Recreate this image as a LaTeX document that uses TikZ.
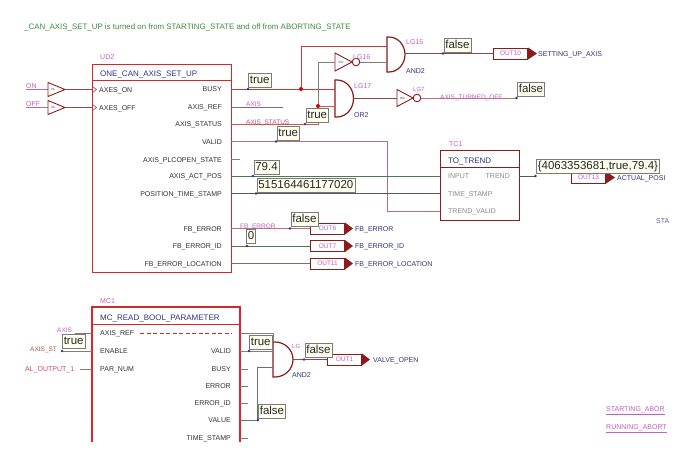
\documentclass[tikz,border=0pt]{standalone}
\usepackage{fontspec}
\setmainfont{Liberation Sans}
\usetikzlibrary{calc}
\definecolor{blockred}{HTML}{D8262B}
\definecolor{gatered}{HTML}{8E1B1B}
\definecolor{lblmag}{HTML}{C45EC4}
\definecolor{navy}{HTML}{34347C}
\definecolor{porttxt}{HTML}{333333}
\definecolor{titlegreen}{HTML}{3E8E3E}
\definecolor{valfill}{HTML}{FFFFF0}
\definecolor{valborder}{HTML}{7A7A7A}
\definecolor{wred}{HTML}{C83A3A}
\definecolor{wdark}{HTML}{8A4A4A}
\definecolor{wgreen}{HTML}{4A7A50}
\definecolor{wpink}{HTML}{B87080}
\definecolor{wgray}{HTML}{505868}
\definecolor{wpurple}{HTML}{7A6A90}
\definecolor{wlgray}{HTML}{8A7A7A}
\definecolor{tcgray}{HTML}{8A8A8A}
\definecolor{redtxt}{HTML}{C05050}
\tikzset{
 port/.style={font=\fontsize{7}{8}\selectfont, text=porttxt, inner sep=0pt},
 portL/.style={port, anchor=base west},
 portR/.style={port, anchor=base east},
 tcport/.style={font=\fontsize{7}{8}\selectfont, text=tcgray, inner sep=0pt, anchor=base west},
 ttl/.style={font=\fontsize{8}{9}\selectfont, text=navy, inner sep=0pt, anchor=base west},
 inst/.style={font=\fontsize{7}{8}\selectfont, text=lblmag, inner sep=0pt, anchor=base west},
 gname/.style={font=\fontsize{7}{8}\selectfont, text=navy, inner sep=0pt, anchor=base west},
 sig/.style={font=\fontsize{6.5}{7}\selectfont, text=lblmag, inner sep=0pt, anchor=base west},
 rsig/.style={font=\fontsize{7}{8}\selectfont, text=redtxt, inner sep=0pt, anchor=base west},
 outname/.style={font=\fontsize{7}{8}\selectfont, text=navy, inner sep=0pt, anchor=base west},
 tinytxt/.style={font=\fontsize{3}{3}\selectfont, text=navy, inner sep=0pt},
 valbox/.style={draw=valborder, fill=valfill, font=\fontsize{11.5}{12}\selectfont, text=black!85, inner xsep=1.5pt, inner ysep=1.5pt, text height=8.5pt, text depth=2.5pt, anchor=south west, line width=0.6pt},
 jdot/.style={circle, fill=navy, inner sep=0pt, minimum size=2.6pt},
 rdot/.style={circle, fill=red!85!black, inner sep=0pt, minimum size=4pt},
 outbox/.style={draw=gatered, line width=1pt, font=\fontsize{6.5}{7}\selectfont, text=lblmag, inner sep=0pt, minimum width=34pt, minimum height=11pt, anchor=west},
 wire/.style={line width=0.7pt},
 blk/.style={draw=blockred, line width=1.4pt, anchor=north west, inner sep=0pt},
 gate/.style={draw=gatered, line width=1.2pt},
 pinmark/.style={draw=wdark, line width=0.6pt},
}
\begin{document}
\begin{tikzpicture}[x=1pt,y=-1pt]
\useasboundingbox (0,0) rectangle (700,450);
\fill[white] (0,0) rectangle (700,450);

% title
\node[font=\fontsize{7.9}{9}\selectfont, text=titlegreen, anchor=base west, inner sep=0pt] (title) at (24,29) {\_CAN\_AXIS\_SET\_UP is turned on from STARTING\_STATE and off from ABORTING\_STATE};

% ================= UD2 block
\node[inst] (ud2lbl) at (100,59.5) {UD2};
\node[blk, minimum width=139pt, minimum height=207.5pt] (ud2) at (92,64) {};
\node[ttl] (ud2t) at (100,76) {ONE\_CAN\_AXIS\_SET\_UP};
\draw[blockred, line width=1pt] (92,80) -- (231,80);
\node[portL] (ud2on) at (99,92) {AXES\_ON};
\node[portL] (ud2off) at (99,110) {AXES\_OFF};
\draw[pinmark] (92,86) -- (96.5,89.5) -- (92,93);
\draw[pinmark] (92,104) -- (96.5,107.5) -- (92,111);
\foreach \nm/\yy/\tx in {busy/89/BUSY, aref/107/AXIS\_REF, astat/124/AXIS\_STATUS, valid/141.5/VALID, plc/159.5/AXIS\_PLCOPEN\_STATE, apos/176/AXIS\_ACT\_POS, pts/193.5/POSITION\_TIME\_STAMP, fbe/228.5/FB\_ERROR, fbid/246/FB\_ERROR\_ID, fbloc/263.5/FB\_ERROR\_LOCATION}{
  \node[portR] (ud2-\nm) at (222,\yy+2.5) {\tx};
  \coordinate (o-\nm) at (231,\yy);
}

% left inputs
\node[sig, font=\fontsize{7}{8}\selectfont] (onsig) at (26,88) {ON};
\node[sig, font=\fontsize{7}{8}\selectfont] (offsig) at (26,106) {OFF};
\coordinate (onL) at (26,89.5);
\coordinate (offL) at (26,107.5);
\coordinate (ud2inon) at (92,89.5);
\coordinate (ud2inoff) at (92,107.5);
\draw[wire, wpink] (onL) -- (48,89.5);
\draw[wire, wpink] (offL) -- (48,107.5);
\draw[gate, line width=0.9pt, fill=white] (48,82.5) -- (65,89.5) -- (48,96.5) -- cycle;
\draw[gate, line width=0.9pt, fill=white] (48,100.5) -- (65,107.5) -- (48,114.5) -- cycle;
\node[tinytxt] (buf1t) at (53.5,89.5) {RL};
\node[tinytxt] (buf2t) at (53.5,107.5) {RL};
\coordinate (buf1o) at (65,89.5);
\coordinate (buf2o) at (65,107.5);
\draw[wire, wdark] (buf1o) -- (ud2inon);
\draw[wire, wdark] (buf2o) -- (ud2inoff);

% ================= gates
% LG15 AND2
\draw[gate, fill=white] (387,37) -- (389,37) arc[start angle=-90, end angle=90, x radius=16, y radius=17.5] -- (387,72) -- cycle;
\coordinate (and15a) at (387,46);
\coordinate (and15b) at (387,62);
\coordinate (and15o) at (405,53.5);
\node[inst] (lg15) at (406,44) {LG15};
\node[gname] (and15n) at (406,73) {AND2};
% LG16 INV
\draw[gate, line width=0.9pt, fill=white] (335,53) -- (352,62) -- (335,71) -- cycle;
\draw[gate, line width=0.9pt, fill=white] (356,62) circle[radius=3.8];
\node[tinytxt] (inv16t) at (341,62) {INV};
\coordinate (inv16i) at (335,62);
\coordinate (inv16o) at (359.8,62);
\node[inst] (lg16) at (353,59) {LG16};
% LG17 OR2
\draw[gate, fill=white] (335,80) -- (337,80) arc[start angle=-90, end angle=90, x radius=16.5, y radius=18.5] -- (335,117) -- cycle;
\coordinate (or17a) at (335,89);
\coordinate (or17b) at (335,106);
\coordinate (or17o) at (353.5,98);
\node[inst] (lg17) at (354,88) {LG17};
\node[gname] (or17n) at (354,117) {OR2};
% LG7 INV
\draw[gate, line width=0.9pt, fill=white] (397,89.5) -- (413,98) -- (397,106.5) -- cycle;
\draw[gate, line width=0.9pt, fill=white] (417,98) circle[radius=3.8];
\node[tinytxt] (inv7t) at (402.5,98) {INV};
\coordinate (inv7i) at (397,98);
\coordinate (inv7o) at (420.8,98);
\node[inst, font=\fontsize{6}{7}\selectfont] (lg7) at (413,91) {LG7};

% ================= wires from UD2
\coordinate (jbusy) at (301,89);
\coordinate (jstat) at (318,106);
\draw[wire, wred] (o-busy) -- (or17a);
\draw[wire, wred] (jbusy) |- (and15a);
\draw[wire, wpurple] (o-aref) -- (283,107);
\node[sig] (axissig) at (246,106) {AXIS};
\draw[wire, wred!80!pink] (o-astat) -| (jstat) -- (or17b);
\draw[wire, wlgray] (jstat) |- (inv16i);
\node[sig, text=redtxt!70!lblmag] (astatsig) at (246,124.5) {AXIS\_STATUS};
\draw[wire, wlgray] (inv16o) -- (and15b);
\draw[wire, wdark] (or17o) -- (inv7i);
\draw[wire, wpink] (inv7o) -- (516.5,98);
\node[sig] (atoff) at (440,99.5) {AXIS\_TURNED\_OFF};
\draw[wire, wdark] (and15o) -- (493,53.5);
\node[rdot] (jbusyd) at (jbusy) {};
\node[rdot] (jstatd) at (jstat) {};

% TC1
\node[inst] (tc1lbl) at (449,146) {TC1};
\node[draw=gatered, line width=1.4pt, anchor=north west, inner sep=0pt, minimum width=78.5pt, minimum height=69.5pt] (tc1) at (440,150) {};
\node[ttl] (tc1t) at (448,163) {TO\_TREND};
\draw[gatered, line width=1pt] (440,167) -- (518.5,167);
\node[tcport] (tcin) at (448,178.5) {INPUT};
\node[tcport, anchor=base east] (tctr) at (510,178.5) {TREND};
\node[tcport] (tcts) at (448,196.5) {TIME\_STAMP};
\node[tcport] (tcvl) at (448,213.5) {TREND\_VALID};
\coordinate (tc-in) at (440,176);
\coordinate (tc-ts) at (440,193.5);
\coordinate (tc-vl) at (440,211);
\coordinate (tc-out) at (518.5,176);

\draw[wire, wpink] (o-valid) -| (387,211) -- (tc-vl);
\draw[wire, wlgray] (o-plc) -- (240,159.5);
\draw[wire, wgreen] (o-apos) -- (tc-in);
\draw[wire, wgray] (o-pts) -- (tc-ts);
\draw[wire, wgray] (tc-out) -- (536,176);

% outputs behind trend value
\begin{scope}
\clip (0,0) rectangle (672,450);
\node[outbox] (out13) at (571,177.5) {OUT13};
\fill[gatered] (out13.north east) -- ($(out13.east)+(9,0)$) -- (out13.south east) -- cycle;
\node[outname] (actpos) at (617,180.5) {ACTUAL\_POSI};
\node[font=\fontsize{7}{8}\selectfont, text=navy!80, anchor=base west, inner sep=0pt] (sta) at (656,223) {STA};
\node[sig, font=\fontsize{7}{8}\selectfont] (startab) at (606,411.5) {\underline{STARTING\_ABOR}};
\node[sig, font=\fontsize{7}{8}\selectfont] (runab) at (606,429.5) {\underline{RUNNING\_ABORT}};
\end{scope}

% FB error outputs
\draw[wire, wpink] (o-fbe) -- (310,228.5);
\node[sig] (fbesig) at (240,228.5) {FB\_ERROR};
\draw[wire, wgreen] (o-fbid) -- (310,246);
\draw[wire, wgreen!70!wpink] (o-fbloc) -- (310,263.5);
\foreach \nm/\yy/\tx/\nt in {o6/228.5/OUT6/FB\_ERROR, o7/246/OUT7/FB\_ERROR\_ID, o11/263.5/OUT11/FB\_ERROR\_LOCATION}{
  \node[outbox] (\nm) at (310,\yy) {\tx};
  \fill[gatered] (\nm.north east) -- ($(\nm.east)+(8,0)$) -- (\nm.south east) -- cycle;
  \node[outname] (\nm-n) at (355,\yy+2.5) {\nt};
}

% OUT10
\node[outbox] (out10) at (493,53.5) {OUT10};
\fill[gatered] (out10.north east) -- ($(out10.east)+(9,0)$) -- (out10.south east) -- cycle;
\node[outname] (setup) at (538,56) {SETTING\_UP\_AXIS};

% value boxes (top)
\node[jdot] (d1) at (248,89) {};
\node[valbox] (v1) at (248,88) {true};
\node[jdot] (d2) at (305,124) {};
\node[valbox] (v2) at (305.5,123) {true};
\node[jdot] (d3) at (276,141.5) {};
\node[valbox] (v3) at (276.5,140.5) {true};
\node[jdot] (d4) at (253,176) {};
\node[valbox] (v4) at (253.5,175) {79.4};
\node[jdot] (d5) at (256,193.5) {};
\node[valbox] (v5) at (256.5,192.5) {515164461177020};
\node[jdot] (d6) at (290,228.5) {};
\node[valbox] (v6) at (290.5,227) {false};
\node[jdot] (d7) at (247,246) {};
\node[valbox] (v7) at (246,244) {0};
\node[jdot] (d8) at (443,53.5) {};
\node[valbox] (v8) at (443.5,52.5) {false};
\node[jdot] (d9) at (516.5,98) {};
\node[valbox] (v9) at (517,97) {false};
\node[jdot] (d10) at (535.5,176) {};
\node[valbox] (v10) at (536,174) {\{4063353681,true,79.4\}};

% ================= MC1 block
\node[inst] (mc1lbl) at (100,303) {MC1};
\draw[blockred, line width=1.4pt] (92,442) -- (92,307) -- (240,307) -- (240,442);
\coordinate (mc1) at (92,307);
\node[ttl] (mc1t) at (100,320) {MC\_READ\_BOOL\_PARAMETER};
\draw[blockred, line width=1pt] (92,324) -- (240,324);
\node[portL] (mcaref) at (100,335.5) {AXIS\_REF};
\node[portL] (mcen) at (100,353.5) {ENABLE};
\node[portL] (mcpar) at (100,371.5) {PAR\_NUM};
\draw[blockred, line width=1pt, dash pattern=on 4pt off 2.5pt] (140,333) -- (232,333);
\foreach \nm/\yy/\tx in {valid/351/VALID, busy/369/BUSY, err/386/ERROR, errid/403/ERROR\_ID, value/420/VALUE, ts/438/TIME\_STAMP}{
  \node[portR] (mc-\nm) at (231,\yy+2.5) {\tx};
  \coordinate (m-\nm) at (240,\yy);
}
\foreach \nm in {busy,err,errid,ts}{
  \draw[wire, wlgray] (m-\nm) -- ++(8,0);
}
% MC1 left inputs
\node[sig] (mcaxis) at (57,332) {AXIS};
\coordinate (mcaxisE) at (75,333);
\coordinate (mcinaref) at (92,333);
\draw[wire, wlgray] (mcaxisE) -- (mcinaref);
\node[rsig, font=\fontsize{6.5}{7}\selectfont] (mcast) at (30,351.5) {AXIS\_ST};
\coordinate (mcinen) at (92,351);
\draw[wire, wlgray] (62,351) -- (mcinen);
\node[jdot] (d11) at (62,351) {};
\node[valbox] (v11) at (62,349) {true};
\node[rsig] (alout) at (25,371.5) {AL\_OUTPUT\_1};
\coordinate (aloutE) at (80,369);
\coordinate (mcinpar) at (92,369);
\draw[wire, wlgray] (aloutE) -- (mcinpar);

% MC1 AND2
\draw[gate, fill=white] (273,342) -- (275,342) arc[start angle=-90, end angle=90, x radius=18, y radius=17.5] -- (273,377) -- cycle;
\coordinate (and2a) at (273,351);
\coordinate (and2b) at (273,367);
\coordinate (and2o) at (293,359.5);
\node[inst, font=\fontsize{6}{7}\selectfont] (lgx) at (292,348) {LG};
\node[gname] (and2n) at (292,377) {AND2};
\draw[wire, wlgray] (240,333) -| (273,342);
\draw[wire, wlgray] (m-valid) -- (and2a);
\draw[wire, wgreen!60!gray] (m-value) -| (257,367) -- (and2b);
\draw[wire, wdark] (and2o) -- (327,359.5);
\node[outbox] (out1) at (327,359.5) {OUT1};
\fill[gatered] (out1.north east) -- ($(out1.east)+(8,0)$) -- (out1.south east) -- cycle;
\node[outname] (valve) at (373,362) {VALVE\_OPEN};
\node[jdot] (d12) at (249,351) {};
\node[valbox] (v12) at (249,350) {true};
\node[jdot] (d13) at (304,359.5) {};
\node[valbox] (v13) at (304.5,358) {false};
\node[jdot] (d14) at (258,420) {};
\node[valbox] (v14) at (258,419) {false};
\end{tikzpicture}
\end{document}
